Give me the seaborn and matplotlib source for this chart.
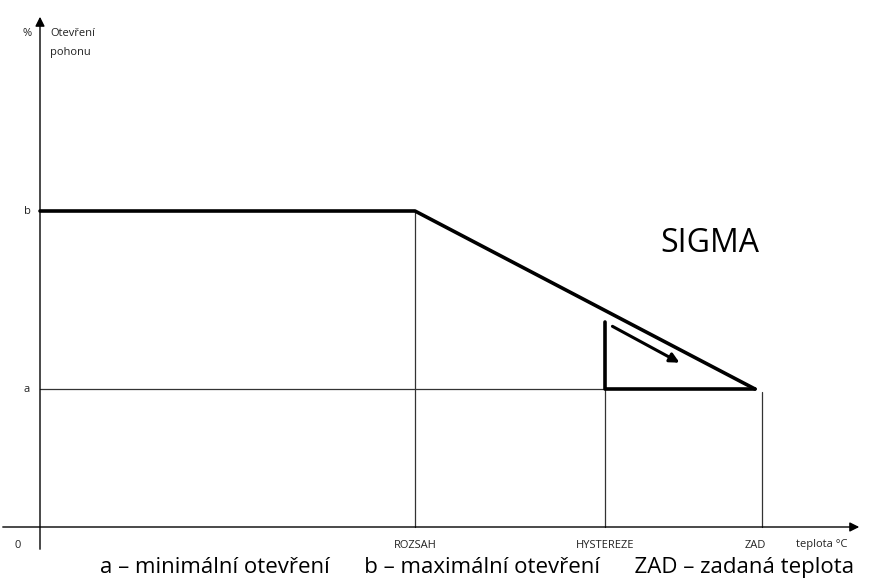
import matplotlib
matplotlib.use("Agg")
import matplotlib.pyplot as plt
import seaborn as sns

# Diagram values (in drawing units, origin at the axes crossing)
tick_labels = ["ROZSAH", "HYSTEREZE", "ZAD"]
tick_x = [375, 565, 722]
level_labels = ["a", "b"]
level_y = [138, 316]

# Regulation curve: max opening until ROZSAH, then falling to min at ZAD
curve_x = [0, 375, 715]
curve_y = [316, 316, 138]

# Hysteresis triangle
tri_x = [565, 565, 715]
tri_y = [205, 138, 138]

legend_text = "a – minimální otevření      b – maximální otevření      ZAD – zadaná teplota"

sns.set_theme(style="white")
plt.rcParams['font.family'] = ['Open Sans', 'DejaVu Sans']

fig = plt.figure(figsize=(8.69, 5.83), dpi=100)
ax = fig.add_axes([0, 0, 1, 1])
ax.set_xlim(-40, 829)
ax.set_ylim(-56, 527)
ax.axis("off")

# axes with arrows
ax.annotate("", xy=(822, 0), xytext=(-40, 0),
            arrowprops=dict(arrowstyle="-|>", color="black", lw=1.0, mutation_scale=14))
ax.annotate("", xy=(0, 513), xytext=(0, -25),
            arrowprops=dict(arrowstyle="-|>", color="black", lw=1.0, mutation_scale=14))

# thin guide lines
ax.plot([0, tick_x[1]], [level_y[0], level_y[0]], color="#333333", lw=0.9)
ax.plot([tick_x[0], tick_x[0]], [0, level_y[1]], color="#333333", lw=0.9)
ax.plot([tick_x[1], tick_x[1]], [0, level_y[0]], color="#333333", lw=0.9)
ax.plot([tick_x[2], tick_x[2]], [0, level_y[0] - 3], color="#333333", lw=0.9)

# thick curve and triangle
sns.lineplot(x=curve_x, y=curve_y, sort=False, estimator=None, color="black", lw=2.6, ax=ax)
sns.lineplot(x=tri_x, y=tri_y, sort=False, estimator=None, color="black", lw=2.6, ax=ax)
ax.annotate("", xy=(642, 163), xytext=(570, 202),
            arrowprops=dict(arrowstyle="-|>", color="black", lw=2.2, mutation_scale=14))

# labels
small = dict(fontsize=8, color="#222222", va="center")
ax.text(-13, 494, "%", ha="center", **small)
ax.text(10, 494, "Otevření", ha="left", **small)
ax.text(10, 475, "pohonu", ha="left", **small)
for lab, y in zip(level_labels, level_y):
    ax.text(-13, y, lab, ha="center", **small)
ax.text(-22, -18, "0", ha="center", **small)
for lab, x in zip(tick_labels, tick_x):
    ax.text(x - (7 if lab == "ZAD" else 0), -18, lab, ha="center", **small)
ax.text(782, -18, "teplota °C", ha="center", **small)

ax.text(620, 283, "SIGMA", fontsize=23, ha="left", va="center", color="black")
ax.text(437, -40, legend_text, fontsize=16, ha="center", va="center", color="black")

fig.savefig("out.png", dpi=100)
